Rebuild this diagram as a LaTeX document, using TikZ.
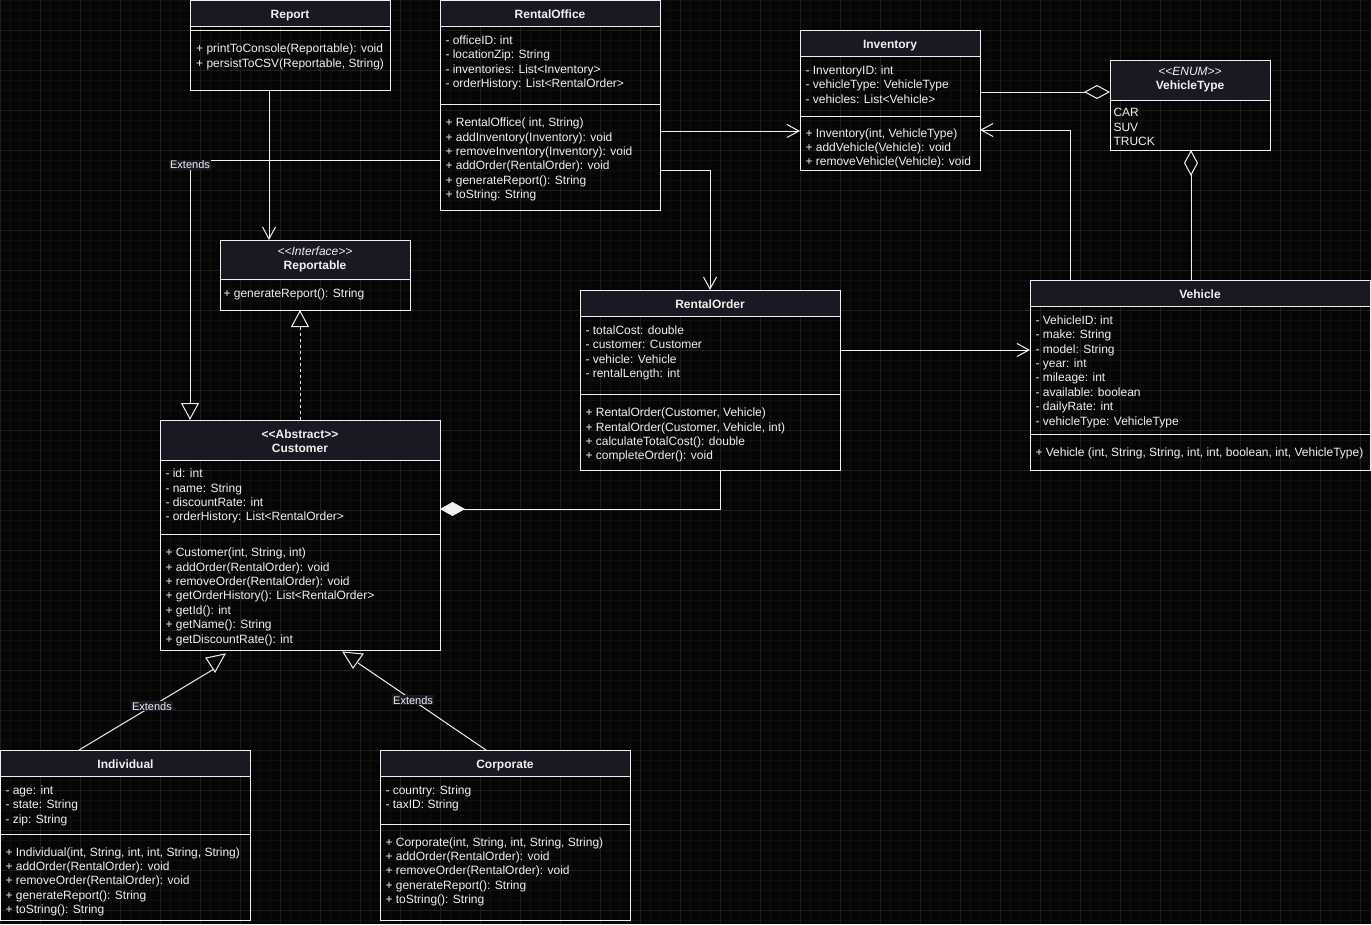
\documentclass[tikz,border=0pt]{standalone}
\usepackage{fontspec}
\setmainfont{Liberation Sans}
\usetikzlibrary{arrows.meta}

\definecolor{bgc}{RGB}{5,5,5}
\definecolor{fg}{RGB}{240,240,240}
\definecolor{hdrc}{RGB}{26,24,34}
\definecolor{gridminor}{RGB}{15,15,15}
\definecolor{gridmajor}{RGB}{30,30,30}

% compartments: left-aligned rows, centred header rows
\newcommand\umlrows[1]{\begin{tabular}[t]{@{}l@{}}#1\end{tabular}}
\newcommand\umlhead[1]{\begin{tabular}[t]{@{}c@{}}#1\end{tabular}}

\tikzset{
  box/.style={draw=fg, line width=1pt, inner sep=0pt, outer sep=0pt, anchor=north west},
  hdr/.style={box, fill=hdrc},
  txt/.style={anchor=base west, inner sep=0pt, outer sep=0pt, text=fg,
              font=\fontsize{12}{14.4}\selectfont},
  ttl/.style={anchor=base, inner sep=0pt, outer sep=0pt, text=fg,
              font=\fontsize{12}{14}\selectfont\bfseries},
  sepline/.style={draw=fg, line width=1pt},
  edge/.style={draw=fg, line width=1pt},
  assoc/.style={edge, -{Straight Barb[length=12pt, width=13pt]}},
  inherit/.style={edge, -{Triangle[open, length=17pt, width=18pt]}},
  agg/.style={edge, -{Diamond[open, length=26pt, width=14pt]}},
  comp/.style={edge, -{Diamond[length=25pt, width=14pt, fill=fg]}},
  lbl/.style={fill=hdrc, text=fg, inner sep=1pt, font=\fontsize{11}{13}\selectfont},
}

\begin{document}
\begin{tikzpicture}[x=1pt, y=-1pt]
\useasboundingbox (0,0) rectangle (1371,924);
\fill[bgc] (0,0) rectangle (1371,924);

% background grid
\foreach \gx in {0,10,...,1370} \draw[gridminor, line width=0.6pt] (\gx,0) -- (\gx,924);
\foreach \gy in {0,10,...,920} \draw[gridminor, line width=0.6pt] (0,\gy) -- (1371,\gy);
\foreach \gx in {0,40,...,1360} \draw[gridmajor, line width=0.8pt] (\gx,0) -- (\gx,924);
\foreach \gy in {30,70,...,910} \draw[gridmajor, line width=0.8pt] (0,\gy) -- (1371,\gy);

% ---------- Report ----------
\node[box, minimum width=200pt, minimum height=90pt] (report) at (190,0.5) {};
\node[hdr, minimum width=200pt, minimum height=26pt] (report-h) at (190,0.5) {};
\draw[sepline] ([yshift=-29.5pt]report.north west) -- ([yshift=-29.5pt]report.north east);
\node[ttl] (report-t) at (290,18.3) {Report};
\node[txt] (report-m) at (196.2,52.6) {\umlrows{+ printToConsole(Reportable): void\\+ persistToCSV(Reportable, String)}};

% ---------- RentalOffice ----------
\node[box, minimum width=220pt, minimum height=210pt] (office) at (440,0.5) {};
\node[hdr, minimum width=220pt, minimum height=26pt] (office-h) at (440,0.5) {};
\draw[sepline] ([yshift=-103.5pt]office.north west) -- ([yshift=-103.5pt]office.north east);
\node[ttl] (office-t) at (550,18.3) {RentalOffice};
\node[txt] (office-a) at (445.5,44.3) {\umlrows{- officeID: int\\- locationZip: String\\- inventories: List<Inventory>\\- orderHistory: List<RentalOrder>}};
\node[txt] (office-m) at (445.5,126.6) {\umlrows{+ RentalOffice( int, String)\\+ addInventory(Inventory): void\\+ removeInventory(Inventory): void\\+ addOrder(RentalOrder): void\\+ generateReport(): String\\+ toString: String}};

% ---------- Inventory ----------
\node[box, minimum width=180pt, minimum height=140pt] (inv) at (800,30) {};
\node[hdr, minimum width=180pt, minimum height=26pt] (inv-h) at (800,30) {};
\draw[sepline] ([yshift=-86pt]inv.north west) -- ([yshift=-86pt]inv.north east);
\node[ttl] (inv-t) at (890,48.3) {Inventory};
\node[txt] (inv-a) at (805.5,74.3) {\umlrows{- InventoryID: int\\- vehicleType: VehicleType\\- vehicles: List<Vehicle>}};
\node[txt] (inv-m) at (805.5,137) {\umlrows{+ Inventory(int, VehicleType)\\+ addVehicle(Vehicle): void\\+ removeVehicle(Vehicle): void}};

% ---------- VehicleType ----------
\node[box, minimum width=160pt, minimum height=90pt] (vtype) at (1110,60) {};
\node[hdr, minimum width=160pt, minimum height=40pt] (vtype-h) at (1110,60) {};
\node[ttl] (vtype-t) at (1190,75.6) {\umlhead{{\mdseries\itshape <{}<ENUM>{}>}\\VehicleType}};
\node[txt] (vtype-v) at (1113.5,116.6) {\umlrows{CAR\\SUV\\TRUCK}};

% ---------- Reportable ----------
\node[box, minimum width=190pt, minimum height=70pt] (iface) at (220,240) {};
\node[hdr, minimum width=190pt, minimum height=39pt] (iface-h) at (220,240) {};
\node[ttl] (iface-t) at (315,255) {\umlhead{{\mdseries\itshape <{}<Interface>{}>}\\Reportable}};
\node[txt] (iface-m) at (223.5,297.6) {\umlrows{+ generateReport(): String}};

% ---------- RentalOrder ----------
\node[box, minimum width=260pt, minimum height=180pt] (order) at (580,290) {};
\node[hdr, minimum width=260pt, minimum height=26pt] (order-h) at (580,290) {};
\draw[sepline] ([yshift=-104pt]order.north west) -- ([yshift=-104pt]order.north east);
\node[ttl] (order-t) at (710,308.3) {RentalOrder};
\node[txt] (order-a) at (585.5,334.3) {\umlrows{- totalCost: double\\- customer: Customer\\- vehicle: Vehicle\\- rentalLength: int}};
\node[txt] (order-m) at (585.5,416.6) {\umlrows{+ RentalOrder(Customer, Vehicle)\\+ RentalOrder(Customer, Vehicle, int)\\+ calculateTotalCost(): double\\+ completeOrder(): void}};

% ---------- Vehicle ----------
\node[box, minimum width=340pt, minimum height=190pt] (vehicle) at (1030,280) {};
\node[hdr, minimum width=340pt, minimum height=26pt] (vehicle-h) at (1030,280) {};
\draw[sepline] ([yshift=-154pt]vehicle.north west) -- ([yshift=-154pt]vehicle.north east);
\node[ttl] (vehicle-t) at (1200,298.3) {Vehicle};
\node[txt] (vehicle-a) at (1035.5,324.3) {\umlrows{- VehicleID: int\\- make: String\\- model: String\\- year: int\\- mileage: int\\- available: boolean\\- dailyRate: int\\- vehicleType: VehicleType}};
\node[txt] (vehicle-m) at (1035.5,456.6) {\umlrows{+ Vehicle (int, String, String, int, int, boolean, int, VehicleType)}};

% ---------- Customer ----------
\node[box, minimum width=280pt, minimum height=230pt] (cust) at (160,420) {};
\node[hdr, minimum width=280pt, minimum height=40pt] (cust-h) at (160,420) {};
\draw[sepline] ([yshift=-114pt]cust.north west) -- ([yshift=-114pt]cust.north east);
\node[ttl] (cust-t) at (300,438.3) {\umlhead{<{}<Abstract>{}>\\Customer}};
\node[txt] (cust-a) at (165.5,477.6) {\umlrows{- id: int\\- name: String\\- discountRate: int\\- orderHistory: List<RentalOrder>}};
\node[txt] (cust-m) at (165.5,556.6) {\umlrows{+ Customer(int, String, int)\\+ addOrder(RentalOrder): void\\+ removeOrder(RentalOrder): void\\+ getOrderHistory(): List<RentalOrder>\\+ getId(): int\\+ getName(): String\\+ getDiscountRate(): int}};

% ---------- Individual ----------
\node[box, minimum width=250pt, minimum height=170pt] (indiv) at (0.5,750) {};
\node[hdr, minimum width=250pt, minimum height=26pt] (indiv-h) at (0.5,750) {};
\draw[sepline] ([yshift=-84pt]indiv.north west) -- ([yshift=-84pt]indiv.north east);
\node[ttl] (indiv-t) at (125.5,768.3) {Individual};
\node[txt] (indiv-a) at (5.5,794.3) {\umlrows{- age: int\\- state: String\\- zip: String}};
\node[txt] (indiv-m) at (5.5,856) {\umlrows{+ Individual(int, String, int, int, String, String)\\+ addOrder(RentalOrder): void\\+ removeOrder(RentalOrder): void\\+ generateReport(): String\\+ toString(): String}};

% ---------- Corporate ----------
\node[box, minimum width=250pt, minimum height=170pt] (corp) at (380,750) {};
\node[hdr, minimum width=250pt, minimum height=26pt] (corp-h) at (380,750) {};
\draw[sepline] ([yshift=-74pt]corp.north west) -- ([yshift=-74pt]corp.north east);
\node[ttl] (corp-t) at (505,768.3) {Corporate};
\node[txt] (corp-a) at (385.5,794.3) {\umlrows{- country: String\\- taxID: String}};
\node[txt] (corp-m) at (385.5,846) {\umlrows{+ Corporate(int, String, int, String, String)\\+ addOrder(RentalOrder): void\\+ removeOrder(RentalOrder): void\\+ generateReport(): String\\+ toString(): String}};

% ---------- connectors ----------
\draw[assoc] (report.south -| 269,0) -- (iface.north -| 269,0);
\draw[inherit] (office.west |- 0,160) -| (cust.north -| 190,0)
  node[lbl, pos=0.5, anchor=north, yshift=0.5pt] (ext1) {Extends};
\draw[inherit, dash pattern=on 3pt off 3pt] (cust.north) -- (iface.south -| cust.north);
\draw[assoc] (office.east |- 0,131) -- (inv.west |- 0,131);
\draw[assoc] (office.east |- 0,170) -| (order.north);
\draw[assoc] (vehicle.north -| 1070,0) |- (inv.east |- 0,130);
\draw[agg] (inv.east |- 0,92) -- (vtype.west |- 0,92);
\draw[agg] (vehicle.north -| 1191,0) -- (vtype.south -| 1191,0);
\draw[assoc] (order.east |- 0,350) -- (vehicle.west |- 0,350);
\draw[comp] (order.south -| 720,0) |- (cust.east |- 0,509);

% generalisations from the two subclasses
\coordinate (gen1) at (214,669);
\coordinate (gen2) at (358,663);
\draw[edge] (indiv.north -| 79,0) -- (gen1) node[lbl, pos=0.54] (ext2) {Extends};
\draw[edge, line join=miter] (206,658) -- (225,654) -- (215,672) -- cycle;
\draw[edge] (corp.north -| 486,0) -- (gen2) node[lbl, pos=0.57] (ext3) {Extends};
\draw[edge, line join=miter] (343,652) -- (363,654) -- (353,668) -- cycle;
\end{tikzpicture}
\end{document}
